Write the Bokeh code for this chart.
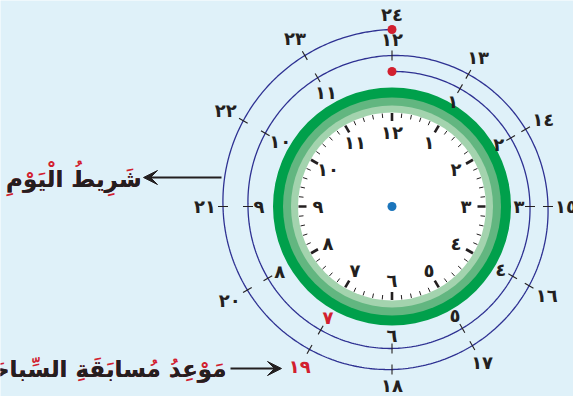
import numpy as np
from bokeh.plotting import figure
from bokeh.models import Range1d, Arrow, VeeHead
from bokeh.core.properties import value
from bokeh.embed import file_html
from bokeh.resources import INLINE

# ---------------- data ----------------
face_hours = list(range(12))                     # 0 = 12 o'clock position
face_labels = ["١٢", "١", "٢", "٣", "٤", "٥", "٦", "٧", "٨", "٩", "١٠", "١١"]
day_hours = list(range(1, 24))                   # ticks on the 24-hour spiral
day_labels = ["١", "٢", "٣", "٤", "٥", "٦", "٧", "٨", "٩", "١٠", "١١", "١٢",
              "١٣", "١٤", "١٥", "١٦", "١٧", "١٨", "١٩", "٢٠", "٢١", "٢٢", "٢٣"]
highlight_hours = [7, 19]
end_hours = [0, 24]
end_labels = ["", "٢٤"]
title_day = "شَرِيطُ الْيَوْمِ"
title_race = "مَوْعِدُ مُسابَقَةِ السِّباحَةِ"

# ---------------- style / geometry ----------------
BG = "#dff1f9"
INK = "#231f20"
RED = "#d2202f"
BLUE = "#2e3192"
FONT = "DejaVu Sans"
W, H = 573, 396
cx, cy = 391.5, H - 206
# spiral radius anchors (hours -> px)
r_t = [0, 3, 6, 9, 12, 15, 18, 21, 24]
r_v = [135, 138, 142, 144, 151, 156, 163, 169, 177]


def rad(t):
    return np.interp(t, r_t, r_v)


def pos(t, r):
    a = np.asarray(t) * np.pi / 6
    return cx + r * np.sin(a), cy + r * np.cos(a)


p = figure(width=W, height=H, x_range=Range1d(0, W), y_range=Range1d(0, H),
           output_backend="svg", toolbar_location=None, min_border=0)
p.axis.visible = False
p.grid.visible = False
p.outline_line_color = None
p.background_fill_color = BG
p.border_fill_color = BG

# ---- clock rings ----
for r, c in [(119, "#00a04b"), (109, "#62b680"), (101, "#a3d3ae"), (94, "white")]:
    p.circle(x=[cx], y=[cy], radius=r, fill_color=c, line_color=None)

# ---- minute / hour ticks on the face ----
mins = np.arange(60)
minor = mins[mins % 5 != 0] / 5.0
major = mins[mins % 5 == 0] / 5.0
x0, y0 = pos(minor, 89)
x1, y1 = pos(minor, 93.5)
p.segment(x0, y0, x1, y1, line_color=INK, line_width=1)
x0, y0 = pos(major, 85.5)
x1, y1 = pos(major, 93.5)
p.segment(x0, y0, x1, y1, line_color=INK, line_width=2.6)

fx, fy = pos(np.array(face_hours), 74)
p.text(fx, fy, text=face_labels, text_align="center", text_baseline="middle",
       text_font=value(FONT), text_font_style="bold", text_font_size="18px",
       text_color=INK)

# ---- the 24-hour spiral ----
ts = np.linspace(0, 24, 800)
sx, sy = pos(ts, rad(ts))
p.line(sx, sy, line_color=BLUE, line_width=1.3)

th = np.array(day_hours, dtype=float)
rr = rad(th)
x0, y0 = pos(th, rr - 5)
x1, y1 = pos(th, rr + 5)
p.segment(x0, y0, x1, y1, line_color=INK, line_width=1.1)

ang = th * np.pi / 6
widths = np.array([8.0 * len(s) + 2 for s in day_labels])
inner = th < 12
d = np.where(inner, 6.0, 9.0) + np.abs(np.sin(ang)) * widths / 2 + np.abs(np.cos(ang)) * 7
lr = np.where(inner, rr - d, rr + d)
lx, ly = pos(th, lr)
colors = [RED if h in highlight_hours else INK for h in day_hours]
p.text(lx, ly, text=day_labels, text_align="center", text_baseline="middle",
       text_font=value(FONT), text_font_style="bold", text_font_size="18px",
       text_color=colors)

# end points of the day
et = np.array(end_hours, dtype=float)
ex, ey = pos(et, rad(et))
p.scatter(ex, ey, size=9, marker="circle", fill_color=RED, line_color=None)
tx, ty = pos(et[1:], rad(et[1:]) + 15)
p.text(tx, ty, text=end_labels[1:], text_align="center", text_baseline="middle",
       text_font=value(FONT), text_font_style="bold", text_font_size="18px",
       text_color=INK)

# centre dot
p.scatter([cx], [cy], size=9, marker="circle", fill_color="#1b75bb", line_color=None)

# ---- arrows and captions ----
p.add_layout(Arrow(end=VeeHead(size=14, fill_color=INK, line_color=INK),
                   x_start=221, y_start=H - 177, x_end=143, y_end=H - 177,
                   line_color=INK, line_width=2))
p.add_layout(Arrow(end=VeeHead(size=14, fill_color=INK, line_color=INK),
                   x_start=230, y_start=H - 368, x_end=281, y_end=H - 368,
                   line_color=INK, line_width=2))


def strip_marks(s):
    return "".join(ch for ch in s if not ("\u064b" <= ch <= "\u0652"))


for txt, x, y in [(title_day, 141, H - 178), (title_race, 226, H - 368)]:
    p.text([x], [y], text=[txt], text_align="right", text_baseline="middle",
           text_font=value(FONT), text_font_style="bold", text_font_size="23px",
           text_color=RED)
    p.text([x], [y], text=[strip_marks(txt)], text_align="right", text_baseline="middle",
           text_font=value(FONT), text_font_style="bold", text_font_size="23px",
           text_color=INK)

open("out.html", "w").write(file_html(p, INLINE))
